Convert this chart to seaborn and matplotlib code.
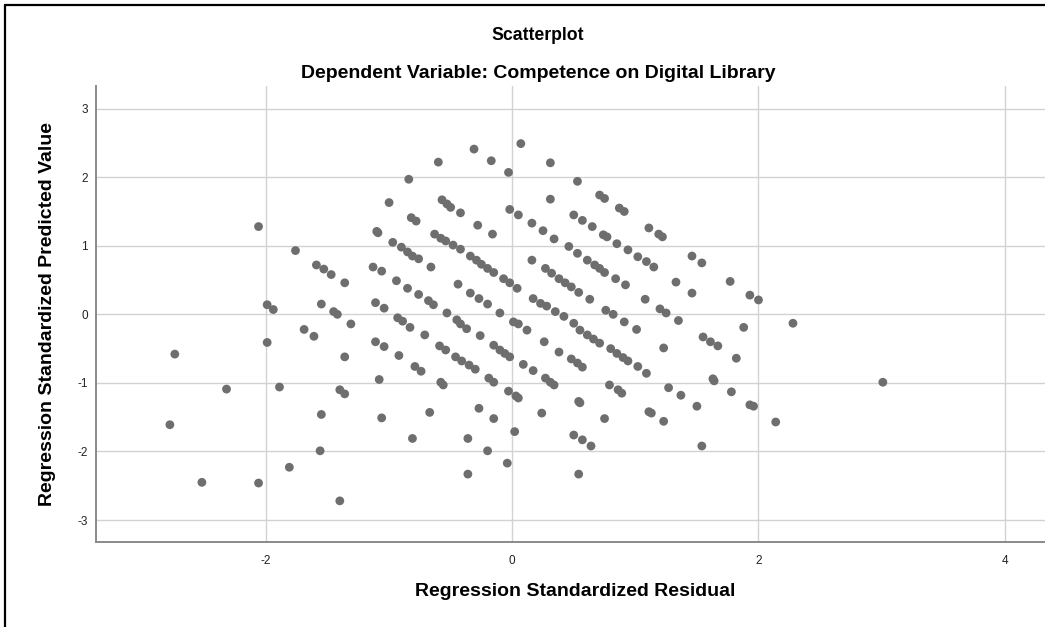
import matplotlib
matplotlib.use("Agg")
import matplotlib.pyplot as plt
from matplotlib.lines import Line2D
import seaborn as sns

# Regression Standardized Residual (x) / Regression Standardized Predicted Value (y)
residual = [
    -2.06, -1.76, -1.59, -1.53, -1.47, -1.36, -1.13, -1.06, -1.00, -1.10, -1.09, -0.97, -0.94,
    -1.99, -1.94, -1.55, -1.45, -1.42, -1.11, -1.04, -0.93, -0.89, -1.31, -1.69, -1.61, -1.99,
    -2.74, -1.36, -1.11, -1.04, -0.92, -1.08, -2.32, -1.89, -1.40, -1.36, -1.55, -1.06, -2.78,
    -1.56, -1.81, -2.52, -2.06, -1.40,
    0.07, -0.31, -0.60, -0.17, -0.03, 0.31, -0.84, 0.53, 0.31, -0.57, -0.53, -0.50, -0.42, -0.82,
    -0.78, -0.28, -0.16, -0.02, 0.05, 0.16, 0.25, 0.34, 0.50, 0.46, -0.63, -0.58, -0.54, -0.48,
    -0.42, -0.90, -0.85, -0.81, -0.76, -0.66, -0.34, -0.29, -0.25, -0.20, -0.15, -0.07, -0.02,
    0.04, 0.16, 0.27, 0.32, 0.38, 0.43, 0.48, 0.54, -0.44, -0.85, -0.76, -0.68, -0.64, -0.53,
    -0.45, -0.34, -0.27, -0.20, -0.10, 0.17, 0.23, 0.28, 0.35, 0.42, 0.50, -0.83, -0.71, -0.37,
    -0.26, 0.01, 0.05, 0.12, -0.42,
    -0.59, -0.54, -0.46, -0.41, -0.35, -0.30, -0.79, -0.74, -0.58, -0.56, -0.19, -0.15, -0.15,
    -0.10, -0.06, -0.02, 0.09, 0.17, 0.26, 0.38, 0.27, 0.31, 0.34, 0.48, 0.53, 0.57, -0.03, 0.03,
    0.05, 0.54, 0.55, -0.67, -0.27, -0.15, 0.24, -0.81, -0.36, 0.02, 0.50, 0.57, 0.64, -0.20,
    -0.04, -0.36, 0.54,
    0.71, 0.75, 0.87, 0.91, 0.57, 0.65, 0.74, 0.77, 0.85, 0.94, 1.02, 1.09, 1.15, 1.11, 1.19,
    1.22, 1.46, 1.54, 1.33, 1.46, 1.77, 1.93, 2.00, 0.53, 0.61, 0.67, 0.71, 0.75, 0.84, 0.92,
    0.63, 1.08, 0.76, 0.82, 0.91, 1.01, 1.20, 1.25, 1.35, 1.88, 1.55, 1.61, 1.67, 0.55, 0.61,
    0.66, 0.71, 0.80, 0.85, 0.90, 0.94, 1.02, 1.09, 1.23, 0.79, 0.86, 0.89, 0.75, 1.11, 1.13,
    1.23, 1.27, 1.37, 1.50, 1.82, 1.63, 1.64, 1.78, 1.93, 1.96, 1.54, 2.14, 2.28, 3.01,
]
predicted = [
    1.28, 0.93, 0.72, 0.66, 0.58, 0.46, 0.69, 0.63, 1.63, 1.21, 1.19, 1.05, 0.49,
    0.14, 0.07, 0.15, 0.04, 0.00, 0.17, 0.09, -0.05, -0.10, -0.14, -0.22, -0.32, -0.41,
    -0.58, -0.62, -0.40, -0.47, -0.60, -0.95, -1.09, -1.06, -1.10, -1.16, -1.46, -1.51, -1.61,
    -1.99, -2.23, -2.45, -2.46, -2.72,
    2.49, 2.41, 2.22, 2.24, 2.07, 2.21, 1.97, 1.94, 1.68, 1.67, 1.61, 1.56, 1.48, 1.41,
    1.36, 1.30, 1.17, 1.53, 1.45, 1.33, 1.22, 1.10, 1.45, 0.99, 1.17, 1.11, 1.07, 1.01,
    0.95, 0.98, 0.91, 0.85, 0.81, 0.69, 0.85, 0.79, 0.73, 0.67, 0.61, 0.52, 0.46,
    0.38, 0.79, 0.67, 0.60, 0.52, 0.46, 0.40, 0.32, 0.44, 0.38, 0.29, 0.20, 0.14, 0.02,
    -0.08, 0.31, 0.23, 0.15, 0.02, 0.23, 0.16, 0.12, 0.04, -0.03, -0.13, -0.19, -0.30, -0.21,
    -0.31, -0.11, -0.14, -0.23, -0.14,
    -0.46, -0.52, -0.62, -0.68, -0.74, -0.80, -0.76, -0.83, -0.99, -1.03, -0.93, -0.99, -0.45,
    -0.52, -0.57, -0.62, -0.73, -0.82, -0.40, -0.55, -0.93, -0.99, -1.03, -0.65, -0.71, -0.77,
    -1.12, -1.19, -1.22, -1.27, -1.29, -1.43, -1.37, -1.52, -1.44, -1.81, -1.81, -1.71, -1.76,
    -1.83, -1.92, -1.99, -2.17, -2.33, -2.33,
    1.74, 1.69, 1.55, 1.50, 1.37, 1.28, 1.16, 1.13, 1.03, 0.94, 0.84, 0.77, 0.69, 1.26, 1.17,
    1.13, 0.85, 0.75, 0.47, 0.31, 0.48, 0.28, 0.21, 0.89, 0.79, 0.72, 0.67, 0.61, 0.52, 0.43,
    0.22, 0.22, 0.06, 0.00, -0.11, -0.22, 0.08, 0.02, -0.09, -0.19, -0.33, -0.40, -0.46, -0.23,
    -0.30, -0.36, -0.42, -0.50, -0.57, -0.63, -0.68, -0.76, -0.86, -0.49, -1.03, -1.10, -1.15,
    -1.52, -1.42, -1.44, -1.56, -1.07, -1.18, -1.34, -0.64, -0.94, -0.97, -1.13, -1.32, -1.34,
    -1.92, -1.57, -0.13, -0.99,
]
x_ticks = [-2, 0, 2, 4]
y_ticks = [-3, -2, -1, 0, 1, 2, 3]

title = "Scatterplot"
subtitle = "Dependent Variable: Competence on Digital Library"
x_label = "Regression Standardized Residual"
y_label = "Regression Standardized Predicted Value"

assert len(residual) == len(predicted)

sns.set_theme(style="whitegrid")
plt.rcParams['font.family'] = ['Liberation Sans', 'DejaVu Sans']

W, H = 1045, 627
fig = plt.figure(figsize=(W / 100, H / 100), dpi=100)
fig.patch.set_facecolor("white")

ax_l, ax_r, ax_t, ax_b = 96, 1054, 86, 542
ax = fig.add_axes([ax_l / W, 1 - ax_b / H, (ax_r - ax_l) / W, (ax_b - ax_t) / H])
ax.set_facecolor("white")

sns.scatterplot(x=residual, y=predicted, ax=ax, color="#6e6e6e", s=40,
                edgecolor="none", linewidth=0, legend=False, zorder=3)

ax.set_xlim(-3.38, 4.40)
ax.set_ylim(-3.32, 3.33)
ax.set_xticks(x_ticks)
ax.set_yticks(y_ticks)
ax.set_xticklabels([str(v) for v in x_ticks])
ax.set_yticklabels([str(v) for v in y_ticks])

ax.grid(True, color="#d2d2d2", linewidth=1.0)
ax.set_axisbelow(True)
for side in ["top", "right"]:
    ax.spines[side].set_visible(False)
for side in ["left", "bottom"]:
    ax.spines[side].set_visible(True)
    ax.spines[side].set_color("#8a8a8a")
    ax.spines[side].set_linewidth(1.4)

ax.tick_params(axis="x", length=0, pad=9, labelsize=8.5, labelcolor="#222222")
ax.tick_params(axis="y", length=3, width=0.8, color="#aaaaaa", pad=3,
               labelsize=8.5, labelcolor="#222222")

ax.set_xlabel(x_label, fontsize=14, fontweight="bold", color="black")
ax.set_ylabel(y_label, fontsize=14, fontweight="bold", color="black")
ax.xaxis.set_label_coords(0.5, -0.091)
ax.yaxis.set_label_coords(-0.042, 0.5)

fig.text(538 / W, 1 - 35 / H, title, ha="center", va="center",
         fontsize=12.7, fontweight="bold", color="black")
fig.text(538 / W, 1 - 73 / H, subtitle, ha="center", va="center",
         fontsize=14, fontweight="bold", color="black")

# outer frame (top and left edges visible)
fig.add_artist(Line2D([5 / W, 1.0], [1 - 5 / H, 1 - 5 / H], transform=fig.transFigure,
                      color="black", linewidth=1.6))
fig.add_artist(Line2D([5 / W, 5 / W], [0.0, 1 - 5 / H], transform=fig.transFigure,
                      color="black", linewidth=1.6))

fig.savefig("out.png", dpi=100, facecolor="white")
